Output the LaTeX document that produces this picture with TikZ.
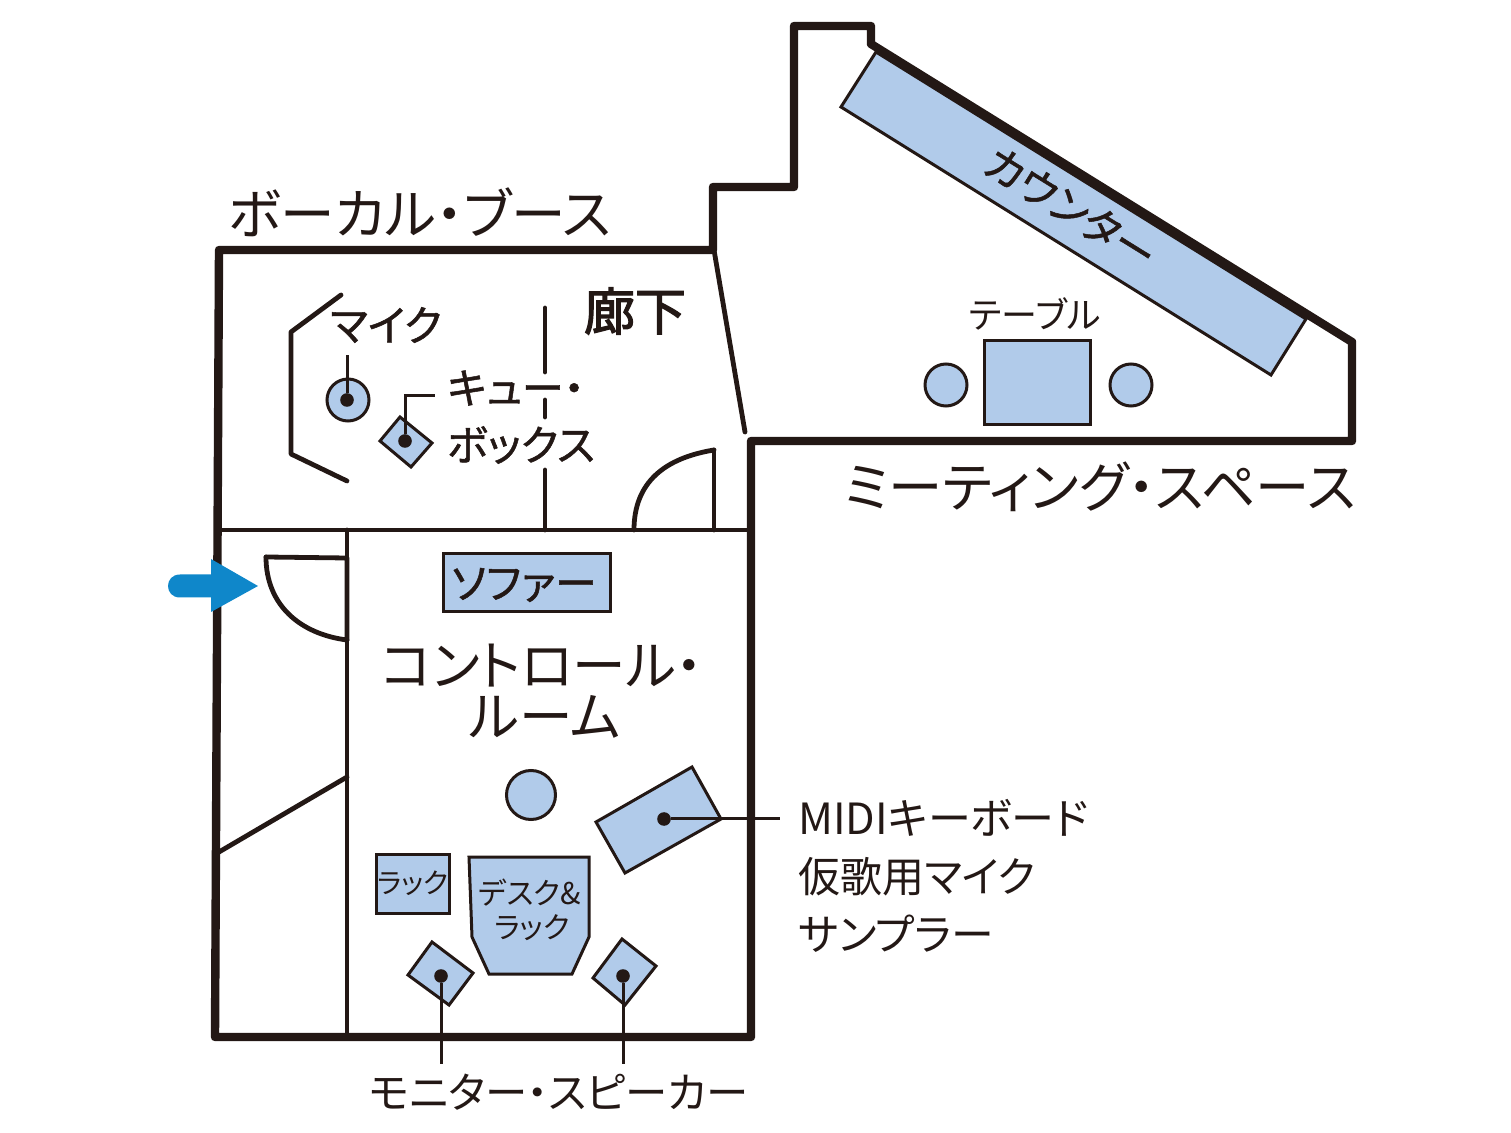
\documentclass[tikz,border=0pt]{standalone}
\usepackage{fontspec}
\setmainfont{Noto Sans CJK JP}[RawFeature=+palt]
\definecolor{fillb}{HTML}{B1CBEA}
\definecolor{ink}{HTML}{231815}
\definecolor{arrowb}{HTML}{0F87CA}
\tikzset{
 wall/.style={draw=ink,line width=4.2pt,line join=round,line cap=round},
 mid/.style={draw=ink,line width=2.4pt,line join=round,line cap=round},
 lead/.style={draw=ink,line width=1.5pt},
 furn/.style={draw=ink,line width=1.5pt,fill=fillb,line join=miter},
 dot/.style={circle,fill=ink,inner sep=0pt,minimum size=6.8pt},
 lbl/.style={text=ink,inner sep=0pt,font=\fontsize{#1}{#1}\selectfont},
 heavy/.style={text=ink,inner sep=0pt,font=\fontsize{#1}{#1}\selectfont\addfontfeature{FakeBold=1.2}},
 heavier/.style={text=ink,inner sep=0pt,font=\fontsize{#1}{#1}\selectfont\addfontfeature{FakeBold=2.5}},
}
\begin{document}
\begin{tikzpicture}[x=0.5pt,y=-0.5pt]
\useasboundingbox (0,0) rectangle (1511,1133);
% furniture
\path[furn] (876,52) -- (1306,319) -- (1271,375) -- (841,107) -- cycle;
\path[furn] (984,341) rectangle (1090,425);
\node[furn,circle,minimum size=21pt,inner sep=0pt] (c1) at (946,385) {};
\node[furn,circle,minimum size=21pt,inner sep=0pt] (c2) at (1131,385) {};
\path[furn] (443,554) rectangle (610,612);
\node[furn,circle,minimum size=24.5pt,inner sep=0pt] (chair) at (531,795) {};
\path[furn] (692,767) -- (721,819) -- (625,873) -- (596,822) -- cycle;
\path[furn] (376,854) rectangle (449,913);
\path[furn] (469,857) -- (589,857) -- (589,937) -- (572,974) -- (489,974) -- (472,937) -- cycle;
\path[furn] (432,942) -- (473,973) -- (449,1005) -- (408,975) -- cycle;
\path[furn] (622,939) -- (656,966) -- (625,1005) -- (593,978) -- cycle;
\node[furn,circle,minimum size=21pt,inner sep=0pt] (mic) at (348,400) {};
\path[furn] (400,417) -- (432,443) -- (411,467) -- (380,441) -- cycle;
% walls
\path[wall] (219,250) -- (713,250) -- (713,187) -- (794,187) -- (794,26) -- (871,26) -- (871,44) -- (1352,342) -- (1352,441) -- (751,441) -- (751,1037) -- (215,1037) -- cycle;
% interior
\path[mid] (219,530) -- (751,530);
\path[mid] (347,530) -- (347,1037);
\path[mid] (219,852) -- (347,777);
\path[mid] (714,250) -- (745,432);
\path[mid] (341,295) -- (291,332) -- (291,454) -- (347,481);
\path[mid] (545,308) -- (545,372);
\path[mid] (545,400) -- (545,417);
\path[mid] (545,470) -- (545,530);
% doors
\path[mid] (714,450) -- (714,530);
\path[mid] (714,450) .. controls (665,458) and (634,482) .. (634,530);
\path[mid] (266,557) -- (347,558) -- (347,640);
\path[mid] (266,557) .. controls (266,605) and (300,634) .. (347,640);
% arrow
\path[fill=arrowb] (180,574.5) -- (211,574.5) -- (211,559) -- (258,586) -- (211,612) -- (211,597.5) -- (180,597.5) .. controls (164,597.5) and (164,574.5) .. (180,574.5) -- cycle;
% dots
\node[dot] (dmic) at (347,400) {};
\node[dot] (dq) at (405,441) {};
\node[dot] (dk) at (664,819) {};
\node[dot] (dl) at (441,976) {};
\node[dot] (dr) at (623,976) {};
\coordinate (emic) at (347,355);
\coordinate (eq1) at (405,396);
\coordinate (eq2) at (435,396);
\coordinate (ek) at (780,819);
\coordinate (el) at (441,1064);
\coordinate (er) at (623,1064);
\draw[lead] (dmic) -- (emic);
\draw[lead] (dq) -- (eq1) -- (eq2);
\draw[lead] (dk) -- (ek);
\draw[lead] (dl) -- (el);
\draw[lead] (dr) -- (er);
% labels
\node[lbl=27.3] (t1) at (420,212) {ボーカル・ブース};
\node[heavier=25.5] (t2) at (635,311) {廊下};
\node[heavy=21] (t3) at (386,325) {マイク};
\node[heavy=21] (t4) at (516,388) {キュー・};
\node[heavy=21] (t5) at (521,445) {ボックス};
\node[heavy=21,rotate=-31.8] (t6) at (1071,208) {カウンター};
\node[lbl=18] (t7) at (1035,314) {テーブル};
\node[lbl=27.2] (t8) at (1100,487) {ミーティング・スペース};
\node[heavy=21] (t9) at (524,585) {ソファー};
\node[lbl=26.8] (t10) at (542,666) {コントロール・};
\node[lbl=26.8] (t11) at (545,717) {ルーム};
\node[lbl=21.5,anchor=west] (t12) at (798,818) {MIDIキーボード};
\node[lbl=21,anchor=west] (t13) at (798,877) {仮歌用マイク};
\node[lbl=21.4,anchor=west] (t14) at (798,934) {サンプラー};
\node[lbl=14] (t15) at (413,883) {ラック};
\node[lbl=15] (t16) at (530,893) {デスク\&};
\node[lbl=14.8] (t17) at (532,928) {ラック};
\node[lbl=21.2] (t18) at (559,1092) {モニター・スピーカー};
\end{tikzpicture}
\end{document}
